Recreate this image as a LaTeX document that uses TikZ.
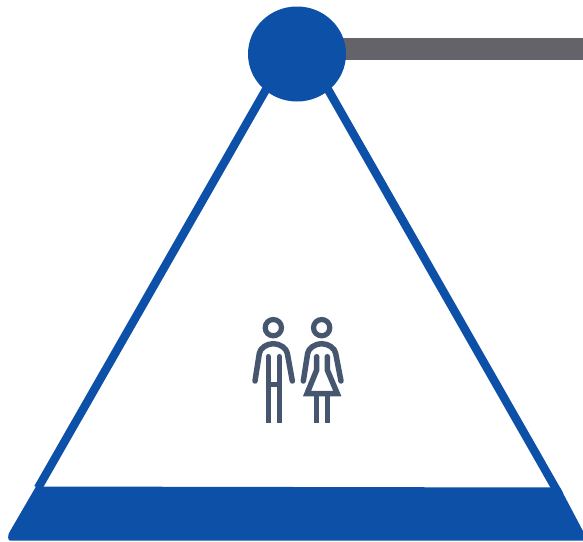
\documentclass[tikz,border=0pt]{standalone}
\usetikzlibrary{shapes.geometric}
\definecolor{bluemain}{HTML}{0D50A8}
\definecolor{barGray}{HTML}{646369}
\definecolor{figSlate}{HTML}{46566F}
\tikzset{
  legline/.style={draw=bluemain,line width=8.4pt},
  figline/.style={draw=figSlate,line width=5.5pt,line cap=round,line join=round},
  figflat/.style={draw=figSlate,line width=5.5pt,line cap=butt,line join=miter},
  headring/.style={circle,draw=figSlate,line width=5.2pt,minimum size=16.3pt,inner sep=0pt},
}
\begin{document}
\begin{tikzpicture}[x=1pt,y=-1pt]
\useasboundingbox (0,0) rectangle (583,541);
% grey bar
\fill[barGray] (335,37.5) rectangle (583,59.5);
% band
\fill[bluemain] (36,486.5) -- (560,487.5) -- (584,533) -- (588,540.5) -- (10,540.5)
  .. controls (7.5,540.5) and (8,535) .. (9,533) -- cycle;
% apex and legs
\node[ellipse,fill=bluemain,minimum width=98pt,minimum height=95pt,inner sep=0pt] (apex) at (297,54) {};
\coordinate (footL) at (38,488);
\coordinate (footR) at (559.5,495);
\coordinate (topL) at (272,79);
\coordinate (topR) at (322,79);
\draw[legline] (topL) -- (footL);
\draw[legline] (topR) -- (footR);
% people
\begin{scope}[shift={(240,305)},x=0.3333pt,y=-0.3333pt]
  \node[headring] (headM) at (100,68) {};
  \node[headring] (headW) at (245,68) {};
  % man
  \draw[figline] (45,228) -- (58,145) .. controls (60,130) and (80,116) .. (100,116)
     .. controls (120,116) and (140,130) .. (142,145) -- (157,228);
  \draw[figline] (85,155) -- (85,200);
  \draw[figline] (118,155) -- (118,200);
  \draw[figflat] (85,190) -- (85,354);
  \draw[figflat] (118,190) -- (118,354);
  \draw[figflat] (85,238) -- (118,238);
  % woman
  \draw[figline] (190,228) -- (203,145) .. controls (205,130) and (225,116) .. (245,116)
     .. controls (265,116) and (285,130) .. (287,145) -- (303,228);
  \draw[figflat] (230,155) -- (230,195) -- (201,266) -- (292,266) -- (262,195) -- (262,155);
  \fill[figSlate] (230,155) circle (8.2) (262,155) circle (8.2);
  \draw[figflat] (230,266) -- (230,354);
  \draw[figflat] (262,266) -- (262,354);
\end{scope}
\end{tikzpicture}
\end{document}
